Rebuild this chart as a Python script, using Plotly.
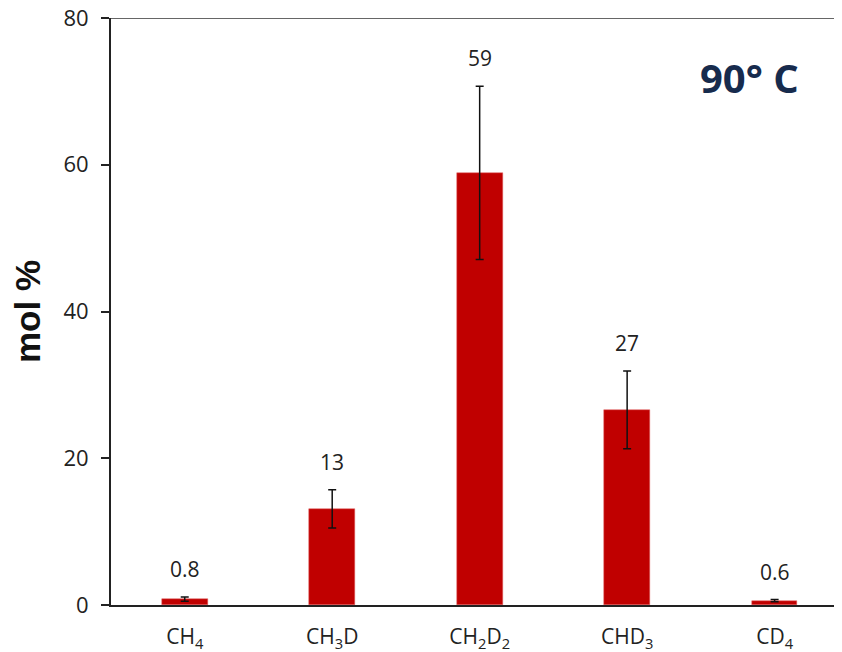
import plotly.graph_objects as go

categories = ["CH<sub>4</sub>", "CH<sub>3</sub>D", "CH<sub>2</sub>D<sub>2</sub>", "CHD<sub>3</sub>", "CD<sub>4</sub>"]
values = [0.8, 13.1, 58.9, 26.6, 0.6]
errors = [0.3, 2.6, 11.8, 5.3, 0.15]
labels = ["0.8", "13", "59", "27", "0.6"]
y_ticks = [0, 20, 40, 60, 80]

TICK_FONT = "Open Sans, Lato, sans-serif"

fig = go.Figure()
fig.add_trace(go.Bar(
    x=categories,
    y=values,
    width=0.31,
    marker=dict(color="#C00000", line=dict(color="#E06060", width=0.5)),
    error_y=dict(type="data", array=errors, visible=True, color="#111111",
                 thickness=1.5, width=4),
    showlegend=False,
))

for c, v, e, t in zip(categories, values, errors, labels):
    fig.add_annotation(x=c, y=v + e, text=t, showarrow=False,
                       xref="x", yref="y", yanchor="bottom", yshift=12,
                       font=dict(family=TICK_FONT, size=21, color="#222222"))

fig.add_annotation(x=0.874, y=0.898, xref="paper", yref="paper",
                   text="<b>90° C</b>", showarrow=False,
                   xanchor="center", yanchor="middle",
                   font=dict(family="Open Sans, sans-serif", size=40, color="#172B4D"))

# top border line
fig.add_shape(type="line", xref="paper", yref="y", x0=0, x1=1, y0=80, y1=80,
              line=dict(color="#666666", width=2))

fig.update_layout(
    width=834, height=644,
    margin=dict(l=103, r=0, t=10, b=47),
    paper_bgcolor="white", plot_bgcolor="white",
    bargap=0,
)
fig.update_xaxes(
    range=[-0.5, 4.457],
    showline=True, linecolor="#222222", linewidth=2,
    ticks="", showgrid=False,
    tickfont=dict(family=TICK_FONT, size=21, color="#222222"),
    ticklabelstandoff=12,
    ticklabeloverflow="allow",
    automargin=False,
)
fig.update_yaxes(
    range=[0, 80], tickvals=y_ticks,
    showline=True, linecolor="#222222", linewidth=2,
    ticks="outside", ticklen=8, tickwidth=2, tickcolor="#222222",
    showgrid=False, zeroline=False,
    tickfont=dict(family=TICK_FONT, size=22, color="#222222"),
    ticklabelstandoff=8,
    ticklabeloverflow="allow",
    automargin=False,
    title=dict(text="<b>mol %</b>", standoff=24,
               font=dict(family="Liberation Sans, Arial, sans-serif", size=35, color="#111111")),
)

fig.write_html("out.html")
